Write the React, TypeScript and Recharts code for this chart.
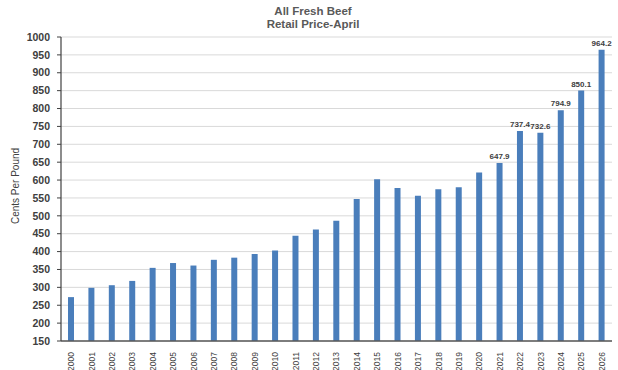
import React from "react";
import { BarChart, Bar, XAxis, YAxis, CartesianGrid, LabelList } from "recharts";

const years = [
  "2000", "2001", "2002", "2003", "2004", "2005", "2006", "2007", "2008", "2009",
  "2010", "2011", "2012", "2013", "2014", "2015", "2016", "2017", "2018", "2019",
  "2020", "2021", "2022", "2023", "2024", "2025", "2026",
];
const prices = [
  272.7, 298.7, 306, 318, 354.5, 368, 361, 377, 383, 393,
  403, 444, 462, 486.5, 547, 602, 578, 556, 574, 580,
  621, 647.9, 737.4, 732.6, 794.9, 850.1, 964.2,
];
const labelledYears = ["2021", "2022", "2023", "2024", "2025", "2026"];
const yTicks = [150, 200, 250, 300, 350, 400, 450, 500, 550, 600, 650, 700, 750, 800, 850, 900, 950, 1000];
const titleLines = ["All Fresh Beef", "Retail Price-April"];

const data = years.map((y, i) => ({
  year: y,
  price: prices[i],
  label: labelledYears.includes(y) ? prices[i].toFixed(1) : null,
}));

const FONT = "'Liberation Sans', Arial, sans-serif";

const XTick = (props: any) => {
  const { x, y, payload } = props;
  return (
    <text
      x={x}
      y={y}
      transform={`rotate(-90, ${x}, ${y})`}
      textAnchor="end"
      dy="0.35em"
      fontSize={8.5}
      fontFamily={FONT}
      fill="#404040"
    >
      {payload.value}
    </text>
  );
};

const renderLabel = (props: any) => {
  const { x, y, width, value } = props;
  if (value === null || value === undefined) return null;
  return (
    <text
      x={x + width / 2}
      y={y - 4}
      textAnchor="middle"
      fontSize={8}
      fontWeight="bold"
      fontFamily={FONT}
      fill="#404040"
    >
      {value}
    </text>
  );
};

export default function App() {
  return (
    <div style={{ position: "absolute", left: 0, top: 0, width: 618, height: 370, background: "#fff", fontFamily: FONT }}>
      {titleLines.map((t, i) => (
        <div
          key={t}
          style={{
            position: "absolute",
            left: 0,
            top: 5 + i * 12.5,
            width: 626,
            textAlign: "center",
            fontSize: 11.5,
            fontWeight: "bold",
            color: "#595959",
            lineHeight: "12.5px",
            height: 12.5,
          }}
        >
          {t}
        </div>
      ))}
      <BarChart
        width={618}
        height={370}
        data={data}
        margin={{ top: 37, right: 6, bottom: 0, left: 0 }}
      >
        <CartesianGrid vertical={false} stroke="#d9d9d9" />
        <XAxis
          dataKey="year"
          height={29}
          tickLine={false}
          axisLine={{ stroke: "#595959", strokeWidth: 1.5 }}
          tick={<XTick />}
          interval={0}
          tickMargin={5}
        />
        <YAxis
          width={61}
          domain={[150, 1000]}
          ticks={yTicks}
          interval={0}
          allowDataOverflow
          axisLine={{ stroke: "#404040", strokeWidth: 1.2 }}
          tickLine={{ stroke: "#404040" }}
          tickSize={4}
          tickMargin={7}
          tick={{ fontSize: 10.5, fontWeight: "bold", fill: "#404040", fontFamily: FONT }}
          label={{
            value: "Cents Per Pound",
            angle: -90,
            position: "insideLeft",
            offset: 0,
            dx: 15,
            dy: -3,
            style: { fontSize: 10, fill: "#404040", fontFamily: FONT, textAnchor: "middle" },
          }}
        />
        <Bar dataKey="price" fill="#4a7ebb" barSize={6} isAnimationActive={false}>
          <LabelList dataKey="label" content={renderLabel} />
        </Bar>
      </BarChart>
    </div>
  );
}
